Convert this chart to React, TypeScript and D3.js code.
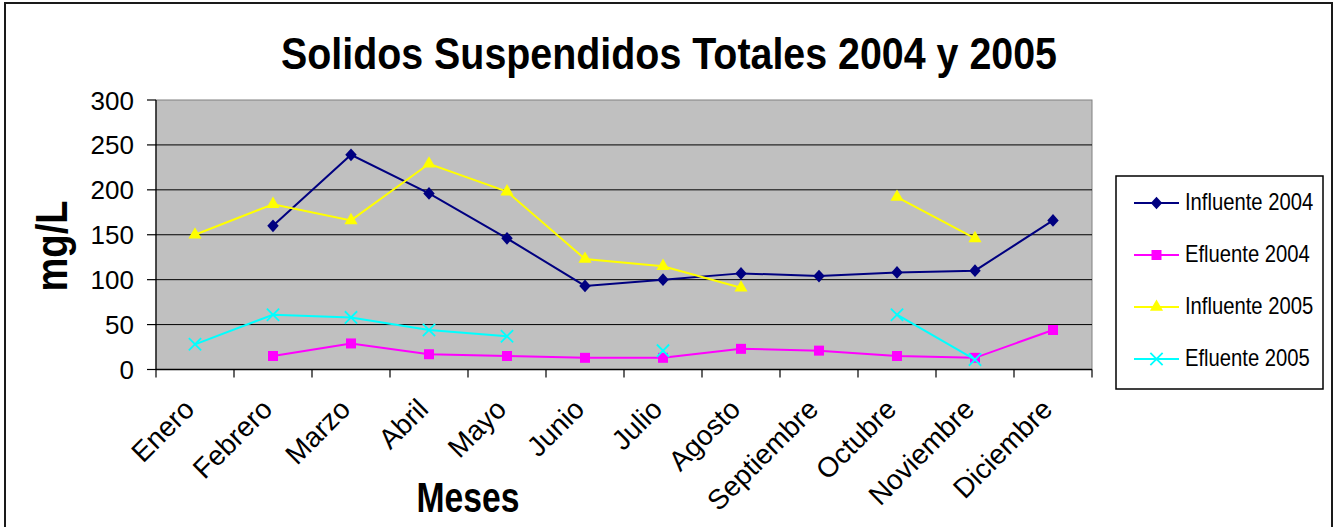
import React from "react";
import * as d3 from "d3";

const months = [
  "Enero", "Febrero", "Marzo", "Abril", "Mayo", "Junio",
  "Julio", "Agosto", "Septiembre", "Octubre", "Noviembre", "Diciembre",
];
const influente2004: (number | null)[] = [null, 160, 239, 196, 146, 93, 100, 107, 104, 108, 110, 166];
const efluente2004: (number | null)[] = [null, 15, 29, 17, 15, 13, 13, 23, 21, 15, 13, 44];
const influente2005: (number | null)[] = [150, 184, 166, 229, 198, 123, 115, 91, null, 192, 146, null];
const efluente2005: (number | null)[] = [28, 61, 58, 44, 37, null, 21, null, null, 61, 11, null];
const yTicks = [0, 50, 100, 150, 200, 250, 300];

const W = 1338;
const H = 527;
const FONT = "'Liberation Sans', Arial, sans-serif";

// diamond a little taller than wide, like the spreadsheet marker
const diamond = {
  draw(ctx: any, size: number) {
    const h = Math.sqrt(size) * 0.75;
    const w = h * 0.9;
    ctx.moveTo(0, -h);
    ctx.lineTo(w, 0);
    ctx.lineTo(0, h);
    ctx.lineTo(-w, 0);
    ctx.closePath();
  },
};

type Series = {
  name: string;
  values: (number | null)[];
  color: string;
  symbol: any;
  size: number;
  stroke?: boolean;
};

const series: Series[] = [
  { name: "Influente 2004", values: influente2004, color: "#000080", symbol: diamond, size: 72 },
  { name: "Efluente 2004", values: efluente2004, color: "#FF00FF", symbol: d3.symbolSquare, size: 100 },
  { name: "Influente 2005", values: influente2005, color: "#FFFF00", symbol: d3.symbolTriangle, size: 75 },
  { name: "Efluente 2005", values: efluente2005, color: "#00FFFF", symbol: d3.symbolTimes, size: 100, stroke: true },
];

const plot = { left: 156, right: 1092, top: 100, bottom: 369.5 };

const App: React.FC = () => {
  const x = d3.scaleBand<string>().domain(months).range([plot.left, plot.right]);
  const y = d3.scaleLinear().domain([0, 300]).range([plot.bottom, plot.top]);
  const cx = (m: string) => (x(m) as number) + x.bandwidth() / 2;

  const line = d3
    .line<number | null>()
    .defined((d) => d != null)
    .x((_, i) => cx(months[i]))
    .y((d) => y(d as number));

  const marker = (s: Series) => d3.symbol().type(s.symbol).size(s.size)() as string;

  const legendY = [203, 255, 307, 359];

  return (
    <svg
      width={W}
      height={H}
      style={{ position: "absolute", left: 0, top: 0, background: "#fff" }}
      fontFamily={FONT}
    >
      {/* outer frame */}
      <rect x={5} y={3} width={1327} height={600} fill="#fff" stroke="#1a1a1a" strokeWidth={2} />

      <text
        x={669}
        y={69}
        textAnchor="middle"
        fontSize={44}
        fontWeight="bold"
        textLength={776}
        lengthAdjust="spacingAndGlyphs"
      >
        Solidos Suspendidos Totales 2004 y 2005
      </text>

      {/* plot area */}
      <rect
        x={plot.left}
        y={plot.top}
        width={plot.right - plot.left}
        height={plot.bottom - plot.top}
        fill="#C0C0C0"
        stroke="#808080"
        strokeWidth={1}
      />
      {yTicks.filter((t) => t > 0 && t < 300).map((t) => (
        <line key={t} x1={plot.left} x2={plot.right} y1={y(t)} y2={y(t)} stroke="#000" strokeWidth={1} />
      ))}

      {/* y axis */}
      <line x1={plot.left} x2={plot.left} y1={plot.top} y2={plot.bottom} stroke="#000" strokeWidth={1.2} />
      {yTicks.map((t) => (
        <g key={t}>
          <line x1={plot.left - 9} x2={plot.left} y1={y(t)} y2={y(t)} stroke="#000" strokeWidth={1.2} />
          <text x={134} y={y(t) + 9.5} textAnchor="end" fontSize={26}>
            {t}
          </text>
        </g>
      ))}

      {/* x axis */}
      <line x1={plot.left} x2={plot.right} y1={plot.bottom} y2={plot.bottom} stroke="#000" strokeWidth={1.5} />
      {months.concat("").map((m, i) => {
        const xx = plot.left + i * x.bandwidth();
        return <line key={"t" + i} x1={xx} x2={xx} y1={plot.bottom} y2={plot.bottom + 8} stroke="#000" strokeWidth={1.2} />;
      })}
      {months.map((m) => (
        <text
          key={m}
          transform={`translate(${cx(m) - 6},${404}) rotate(-45)`}
          textAnchor="end"
          dy="0.35em"
          fontSize={28}
        >
          {m}
        </text>
      ))}

      {/* series */}
      {series.map((s) => (
        <g key={s.name}>
          <path d={line(s.values) as string} fill="none" stroke={s.color} strokeWidth={2} />
          {s.values.map((v, i) =>
            v == null ? null : (
              <path
                key={i}
                transform={`translate(${cx(months[i])},${y(v)})`}
                d={marker(s)}
                fill={s.stroke ? "none" : s.color}
                stroke={s.stroke ? s.color : "none"}
                strokeWidth={s.stroke ? 1.8 : 0}
              />
            )
          )}
        </g>
      ))}

      {/* axis titles */}
      <text
        transform="translate(67,246) rotate(-90)"
        textAnchor="middle"
        fontSize={44}
        fontWeight="bold"
        textLength={91}
        lengthAdjust="spacingAndGlyphs"
      >
        mg/L
      </text>
      <text
        x={468}
        y={512}
        textAnchor="middle"
        fontSize={42}
        fontWeight="bold"
        textLength={103}
        lengthAdjust="spacingAndGlyphs"
      >
        Meses
      </text>

      {/* legend */}
      <rect x={1116} y={176} width={207} height={213} fill="#fff" stroke="#000" strokeWidth={1.5} />
      {series.map((s, i) => (
        <g key={s.name} transform={`translate(0,${legendY[i]})`}>
          <line x1={1134} x2={1179} y1={0} y2={0} stroke={s.color} strokeWidth={2} />
          <path
            transform="translate(1156.5,0)"
            d={marker(s)}
            fill={s.stroke ? "none" : s.color}
            stroke={s.stroke ? s.color : "none"}
            strokeWidth={s.stroke ? 1.8 : 0}
          />
          <text transform="translate(1185,7) scale(0.88,1)" fontSize={23}>
            {s.name}
          </text>
        </g>
      ))}
    </svg>
  );
};

export default App;
